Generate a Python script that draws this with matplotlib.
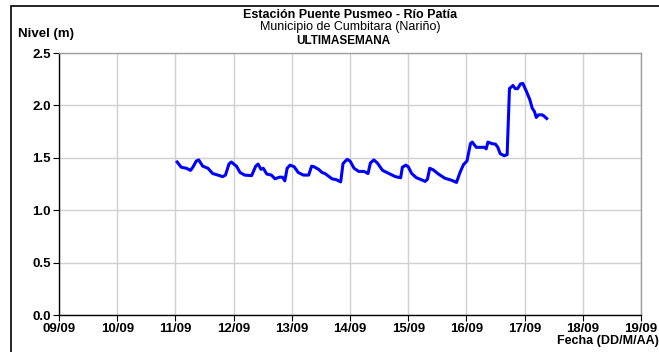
import numpy as np
import matplotlib
matplotlib.use('Agg')
import matplotlib.pyplot as plt
from matplotlib.patches import Rectangle

plt.rcParams['font.family'] = ['Liberation Sans', 'DejaVu Sans']

# day of September (fractional) and river level (m)
dias = [11.03, 11.10, 11.19, 11.26, 11.30, 11.36, 11.40, 11.47, 11.56, 11.64,
        11.76, 11.81, 11.86, 11.92, 11.96, 12.05, 12.11, 12.19, 12.31, 12.38,
        12.42, 12.47, 12.51, 12.57, 12.65, 12.71, 12.79, 12.84, 12.88, 12.92,
        12.97, 13.04, 13.11, 13.20, 13.29, 13.34, 13.38, 13.46, 13.52, 13.57,
        13.69, 13.77, 13.84, 13.88, 13.95, 14.00, 14.07, 14.15, 14.24, 14.31,
        14.35, 14.41, 14.47, 14.56, 14.67, 14.78, 14.87, 14.90, 14.96, 15.00,
        15.06, 15.14, 15.23, 15.29, 15.33, 15.37, 15.43, 15.52, 15.63, 15.75,
        15.83, 15.89, 15.95, 16.01, 16.07, 16.10, 16.17, 16.24, 16.31, 16.34,
        16.37, 16.44, 16.50, 16.54, 16.58, 16.65, 16.70, 16.74, 16.80, 16.84,
        16.88, 16.93, 16.97, 17.03, 17.09, 17.13, 17.17, 17.20, 17.24, 17.30,
        17.33, 17.38]
nivel = [1.46, 1.41, 1.40, 1.38, 1.41, 1.47, 1.48, 1.42, 1.40, 1.35,
         1.33, 1.32, 1.335, 1.44, 1.46, 1.42, 1.36, 1.335, 1.33, 1.42,
         1.44, 1.39, 1.40, 1.345, 1.335, 1.30, 1.315, 1.315, 1.28, 1.40,
         1.43, 1.415, 1.36, 1.335, 1.335, 1.42, 1.415, 1.39, 1.36, 1.35,
         1.30, 1.29, 1.27, 1.445, 1.485, 1.47, 1.40, 1.37, 1.37, 1.35,
         1.45, 1.48, 1.45, 1.38, 1.35, 1.32, 1.31, 1.41, 1.43, 1.415,
         1.35, 1.31, 1.29, 1.275, 1.295, 1.40, 1.385, 1.345, 1.305, 1.285,
         1.265, 1.36, 1.435, 1.47, 1.635, 1.65, 1.60, 1.60, 1.60, 1.585,
         1.65, 1.635, 1.63, 1.60, 1.54, 1.52, 1.53, 2.16, 2.19, 2.16,
         2.16, 2.205, 2.21, 2.135, 2.055, 1.975, 1.94, 1.885, 1.91, 1.91,
         1.90, 1.875]

x_ticks = list(range(9, 20))
x_labels = ['09/09', '10/09', '11/09', '12/09', '13/09', '14/09', '15/09',
            '16/09', '17/09', '18/09', '19/09']
y_ticks = [0.0, 0.5, 1.0, 1.5, 2.0, 2.5]

fig = plt.figure(figsize=(6.59, 3.52), dpi=100)
ax = fig.add_axes([59 / 659, 1 - 315 / 352, 582 / 659, 262 / 352])

# outer frame of the original sheet (left and top edges visible)
fig.patches.append(Rectangle((11 / 659, -0.1), 1.2, 1.1 - 6 / 352,
                             transform=fig.transFigure, fill=False,
                             edgecolor='black', linewidth=1.2, zorder=0))

ax.plot(dias, nivel, color='#0000ff', linewidth=2.2, solid_joinstyle='round')

ax.set_xlim(9, 19)
ax.set_ylim(0, 2.5)
ax.set_xticks(x_ticks)
ax.set_xticklabels(x_labels, fontsize=9.5, fontweight='bold')
ax.set_yticks(y_ticks)
ax.set_yticklabels([f'{v:.1f}' for v in y_ticks], fontsize=9.5, fontweight='bold')
ax.tick_params(axis='both', direction='out', length=4, width=0.8, pad=2)
ax.grid(True, color='#d0d0d0', linewidth=1.0)
ax.set_axisbelow(True)

for s in ['top', 'right']:
    ax.spines[s].set_color('#a0a0a0')
    ax.spines[s].set_linewidth(1.0)
for s in ['left', 'bottom']:
    ax.spines[s].set_color('black')
    ax.spines[s].set_linewidth(1.0)

fig.text(350 / 659, 1 - 15 / 352, 'Estación Puente Pusmeo - Río Patía',
         ha='center', va='center', fontsize=9, fontweight='bold')
fig.text(350 / 659, 1 - 27 / 352, 'Municipio de Cumbitara (Nariño)',
         ha='center', va='center', fontsize=9)
fig.text(343 / 659, 1 - 40.5 / 352, 'ULTIMASEMANA',
         ha='center', va='center', fontsize=8.5, fontweight='bold')
fig.text(18 / 659, 1 - 34 / 352, 'Nivel (m)', ha='left', va='center',
         fontsize=9.5, fontweight='bold')
fig.text(659 / 659, 1 - 341 / 352, 'Fecha (DD/M/AA)', ha='right', va='center',
         fontsize=9, fontweight='bold')

fig.savefig('out.png', dpi=100)
